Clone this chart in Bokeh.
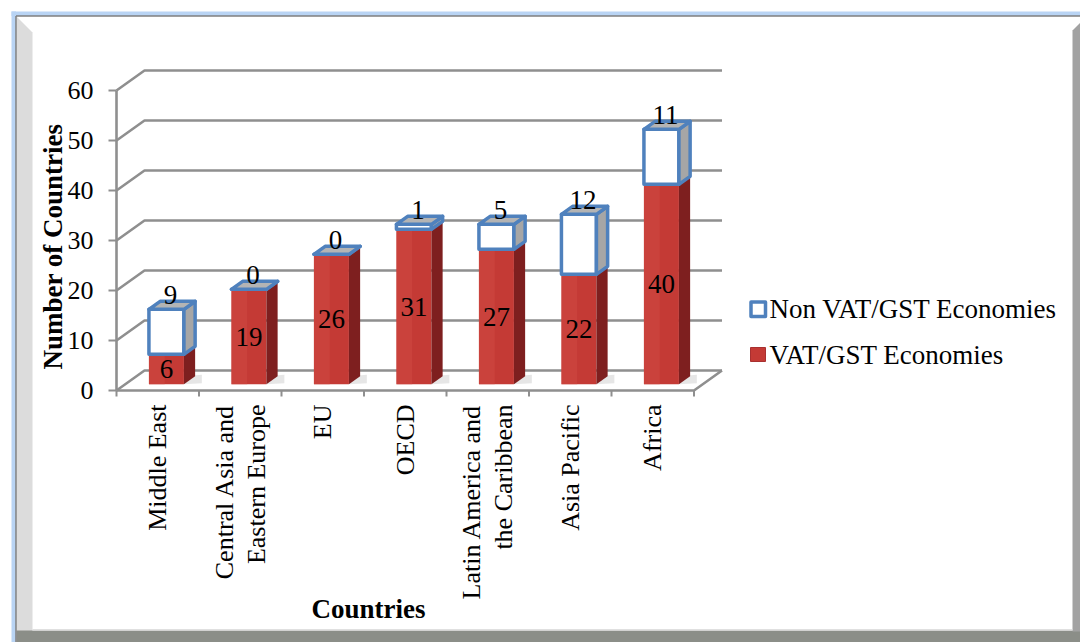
import numpy as np
from bokeh.plotting import figure
from bokeh.models import Range1d
from bokeh.core.properties import value
from bokeh.embed import file_html
from bokeh.resources import INLINE

# ---- data -------------------------------------------------------------
categories = ["Middle East", "Central Asia and\nEastern Europe", "EU", "OECD",
              "Latin America and\nthe Caribbean", "Asia Pacific", "Africa"]
vat_gst = [6, 19, 26, 31, 27, 22, 40]
non_vat_gst = [9, 0, 0, 1, 5, 12, 11]
y_ticks = [0, 10, 20, 30, 40, 50, 60]
series_names = ["Non VAT/GST Economies", "VAT/GST Economies"]
y_title = "Number of Countries"
x_title = "Countries"

# ---- layout -----------------------------------------------------------
W, H = 1080, 642
ORIGIN_X, ORIGIN_Y = 116, 390      # front-left corner of the floor (page px)
CAT_PX = 82.5                      # width of one category slot
UNIT_PX = 5.0                      # pixels per country
DEPTH_PX = (28.0, 20.0)            # depth of floor / walls: right, up

FONT = value("Liberation Serif")
GRID = "#8f8f8f"
RED_FRONT = "#c43a35"
RED_LIGHT = "#cf4741"
RED_SIDE = "#7e1f1f"
BLUE = "#4f81bd"
GREY_SIDE = "#a6a6a6"
GREY_TOP = "#b4b4b4"

x_range = Range1d(-0.5 - ORIGIN_X / CAT_PX, -0.5 + (W - ORIGIN_X) / CAT_PX)
y_range = Range1d(-(H - ORIGIN_Y) / UNIT_PX, ORIGIN_Y / UNIT_PX)

p = figure(width=W, height=H, x_range=x_range, y_range=y_range,
           x_axis_type=None, y_axis_type=None, output_backend="svg",
           toolbar_location=None, min_border=0, outline_line_color=None,
           background_fill_color="white", border_fill_color="white")
# page-pixel coordinates for the frame, titles and legend
p.extra_x_ranges = {"px": Range1d(0, W)}
p.extra_y_ranges = {"px": Range1d(H, 0)}
PX = dict(x_range_name="px", y_range_name="px")

# ---- chart frame --------------------------------------------------------
p.quad(left=[11, 11], right=[W, 15.5], top=[11, 11], bottom=[15.5, H],
       fill_color="#b9d4f4", line_color=None, **PX)
p.patch(x=[16, 32, 32, 16], y=[16, 32, 630, H], fill_color="#dcdcdc",
        line_color=None, **PX)
p.quad(left=[16], right=[W], top=[630], bottom=[H], fill_color="#8b8e88",
       line_color=None, **PX)
p.patch(x=[1072, W, W, 1072], y=[30, 22, 631, 631], fill_color="#a2a2a2",
        line_color=None, **PX)
p.segment(x0=[15.5, 15.5], y0=[15.5, 15.5], x1=[W, 15.5], y1=[15.5, H],
          line_color="#7f7f7f", line_width=1.5, **PX)
p.segment(x0=[32], y0=[629.5], x1=[1072], y1=[629.5], line_color="#d6d6d6",
          line_width=1.5, **PX)

# ---- 3-D walls, floor and axes ------------------------------------------
n = len(categories)
idx = np.arange(n)
ddx, ddy = DEPTH_PX[0] / CAT_PX, DEPTH_PX[1] / UNIT_PX
x_lo, x_hi = -0.5, n - 0.5

p.multi_line(xs=[[x_lo, x_lo + ddx, x_hi + ddx] for _ in y_ticks],
             ys=[[v, v + ddy, v + ddy] for v in y_ticks],
             line_color=GRID, line_width=2.6)
# floor front edge and right edge
p.multi_line(xs=[[x_lo, x_hi, x_hi + ddx]], ys=[[0, 0, ddy]],
             line_color=GRID, line_width=2.6)
# value axis line and tick marks
p.segment(x0=[x_lo], y0=[0], x1=[x_lo], y1=[max(y_ticks)],
          line_color=GRID, line_width=2.6)
p.segment(x0=[x_lo - 8 / CAT_PX] * len(y_ticks), y0=y_ticks,
          x1=[x_lo] * len(y_ticks), y1=y_ticks, line_color=GRID, line_width=2)
# category tick marks
bounds = list(np.arange(n + 1) - 0.5)
p.segment(x0=bounds, y0=[0] * len(bounds), x1=bounds,
          y1=[-6 / UNIT_PX] * len(bounds), line_color=GRID, line_width=2)

# ---- stacked 3-D columns -------------------------------------------------
vat = np.array(vat_gst, dtype=float)
nonvat = np.array(non_vat_gst, dtype=float)
bw = 35 / CAT_PX
fx, fy = 0.31 * ddx, 0.31 * ddy          # front face set back into the floor
bdx, bdy = 0.4 * ddx, 0.4 * ddy          # column depth
left = idx - bw / 2 + fx
right = left + bw
base = np.full(n, fy)
vat_top = base + vat
tot_top = vat_top + nonvat


def side(lo, hi):
    return ([[r, r + bdx, r + bdx, r] for r in right],
            [[a, a + bdy, b + bdy, b] for a, b in zip(lo, hi)])


def top(h):
    return ([[l, r, r + bdx, l + bdx] for l, r in zip(left, right)],
            [[t, t, t + bdy, t + bdy] for t in h])


# soft shadow on the floor behind each column
shadow_x = [[r, r + 1.6 * bdx, r + 1.6 * bdx, r] for r in right]
shadow_y = [[b, b + 0.2, b + 1.2 * bdy, b + bdy] for b in base]
p.patches(xs=shadow_x, ys=shadow_y, fill_color="#9a9a9a", fill_alpha=0.25,
          line_color=None)

# VAT/GST segment
p.quad(left=left, right=right, bottom=base, top=vat_top,
       fill_color=RED_FRONT, line_color=None)
p.quad(left=left, right=left + bw * 0.45, bottom=base, top=vat_top,
       fill_color=RED_LIGHT, fill_alpha=0.6, line_color=None)
sx, sy = side(base, vat_top)
p.patches(xs=sx, ys=sy, fill_color=RED_SIDE, line_color=None)

# Non VAT/GST segment
p.quad(left=left, right=right, bottom=vat_top, top=tot_top,
       fill_color="white", line_color=BLUE, line_width=3.5, line_join="round")
sx, sy = side(vat_top, tot_top)
p.patches(xs=sx, ys=sy, fill_color=GREY_SIDE, line_color=BLUE,
          line_width=3.5, line_join="round")
tx, ty = top(tot_top)
p.patches(xs=tx, ys=ty, fill_color=GREY_TOP, line_color=BLUE,
          line_width=3.5, line_join="round")

# ---- value labels --------------------------------------------------------
p.text(x=idx + fx, y=base + vat / 2, text=[str(v) for v in vat_gst],
       text_font=FONT, text_font_size="27px", text_color="black",
       text_align="center", text_baseline="middle")
p.text(x=idx + fx + 4 / CAT_PX, y=tot_top + 14 / UNIT_PX,
       text=[str(v) for v in non_vat_gst],
       text_font=FONT, text_font_size="27px", text_color="black",
       text_align="center", text_baseline="middle")

# ---- axis labels ---------------------------------------------------------
p.text(x=[93] * len(y_ticks), y=y_ticks, text=[str(v) for v in y_ticks],
       x_range_name="px", text_font=FONT, text_font_size="26px",
       text_color="black", text_align="right", text_baseline="middle")
p.text(x=idx, y=[404] * n, text=categories, y_range_name="px",
       angle=np.pi / 2, text_font=FONT, text_font_size="26px",
       text_color="black", text_align="right", text_baseline="middle",
       text_line_height=1.1)

p.text(x=[52], y=[246], text=[y_title], angle=np.pi / 2, text_font=FONT,
       text_font_size="27px", text_font_style="bold", text_color="black",
       text_align="center", text_baseline="middle", **PX)
p.text(x=[368], y=[608], text=[x_title], text_font=FONT,
       text_font_size="27px", text_font_style="bold", text_color="black",
       text_align="center", text_baseline="middle", **PX)

# ---- legend --------------------------------------------------------------
p.quad(left=[750.5], right=[765], top=[301.5], bottom=[316],
       fill_color="white", line_color=BLUE, line_width=3.5,
       line_join="round", **PX)
p.quad(left=[750], right=[765], top=[347], bottom=[361],
       fill_color=RED_FRONT, line_color="#a83030", line_width=1, **PX)
p.text(x=[769, 769], y=[308, 354], text=series_names, text_font=FONT,
       text_font_size="27px", text_color="black", text_align="left",
       text_baseline="middle", **PX)

open("out.html", "w").write(file_html(p, INLINE))
